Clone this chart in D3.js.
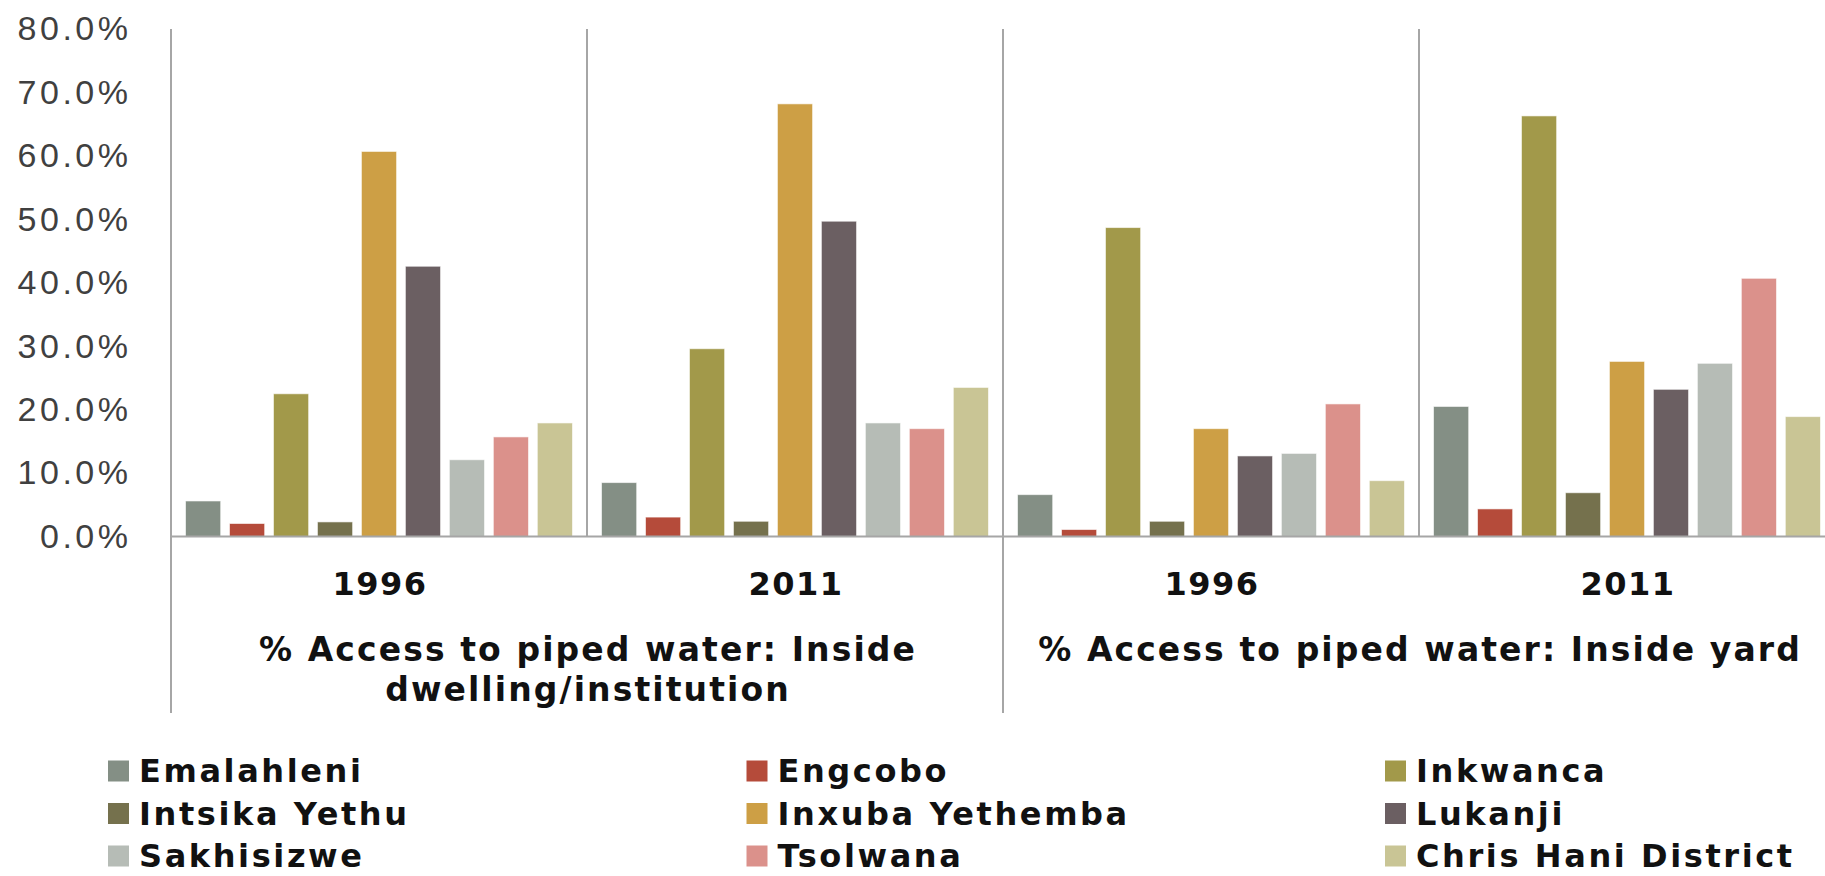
<!DOCTYPE html>
<html>
<head>
<meta charset="utf-8">
<script src="https://cdn.jsdelivr.net/npm/d3@7"></script>
<style>
  body { margin: 0; background: #fff; }
  svg { display: block; font-family: "DejaVu Sans", sans-serif; }
  .tick-lbl { font-size: 34px; fill: #404040; letter-spacing: 3.5px; }
  .year-lbl { font-size: 32px; font-weight: bold; fill: #111; letter-spacing: 1.5px; }
  .cat-lbl { font-size: 33px; font-weight: bold; fill: #111; letter-spacing: 2.1px; }
  .leg-lbl { font-size: 32px; font-weight: bold; fill: #111; letter-spacing: 2.6px; }
</style>
</head>
<body>
<div id="chart"></div>
<script>
// groups along the x axis (year within category)
var years = ['1996', '2011', '1996', '2011']
var categories = [
  ['% Access to piped water: Inside', 'dwelling/institution'],
  ['% Access to piped water: Inside yard']
]
var series = ['Emalahleni', 'Engcobo', 'Inkwanca', 'Intsika Yethu', 'Inxuba Yethemba',
              'Lukanji', 'Sakhisizwe', 'Tsolwana', 'Chris Hani District']
// % values per series: [dwelling 1996, dwelling 2011, yard 1996, yard 2011]
var emalahleni = [5.6, 8.5, 6.6, 20.5]
var engcobo    = [2.05, 3.06, 1.1, 4.35]
var inkwanca   = [22.5, 29.6, 48.7, 66.3]
var intsika    = [2.3, 2.4, 2.4, 6.9]
var inxuba     = [60.7, 68.2, 17.0, 27.6]
var lukanji    = [42.6, 49.7, 12.7, 23.2]
var sakhisizwe = [12.1, 17.9, 13.1, 27.3]
var tsolwana   = [15.7, 17.0, 20.9, 40.7]
var chrisHani  = [17.9, 23.5, 8.8, 18.9]
var values = [emalahleni, engcobo, inkwanca, intsika, inxuba, lukanji, sakhisizwe, tsolwana, chrisHani]
var yTicks = [0, 0.1, 0.2, 0.3, 0.4, 0.5, 0.6, 0.7, 0.8]

var colors = ['#848f85', '#b54b3a', '#a2994a', '#75714d', '#cd9f45',
              '#6b5f62', '#b6bcb6', '#db918b', '#c9c595']

var W = 1825, H = 876
var x0 = 171, groupW = 416
var svg = d3.select('#chart').append('svg')
    .attr('width', W).attr('height', H)

var y = d3.scaleLinear().domain([0, 0.8]).range([536.5, 29])
var xg = d3.scaleBand().domain(d3.range(years.length))
    .range([x0, x0 + groupW * years.length])
var xs = d3.scaleBand().domain(series)
    .range([0, xg.bandwidth()]).paddingInner(0.2).paddingOuter(0.33)

// y axis labels (letter-spacing trails the last glyph, so shift right by it)
var yAxis = d3.axisLeft(y).tickValues(yTicks).tickFormat(d3.format('.1%')).tickSize(0).tickPadding(0)
var ya = svg.append('g').attr('transform', 'translate(131.5,0)').call(yAxis)
ya.select('.domain').remove()
ya.selectAll('text').attr('class', 'tick-lbl').attr('font-size', null).attr('font-family', null).attr('fill', null)

// bars
var flat = []
series.forEach((s, i) => {
  values[i].forEach((v, g) => flat.push({s: s, i: i, g: g, v: v / 100}))
})
svg.selectAll('.bar')
  .data(flat)
  .enter()
  .append('rect')
  .attr('class', 'bar')
  .attr('x', d => xg(d.g) + xs(d.s))
  .attr('width', xs.bandwidth())
  .attr('y', d => y(d.v))
  .attr('height', d => y(0) - y(d.v))
  .attr('fill', d => colors[d.i])
  .attr('stroke', '#fff').attr('stroke-opacity', 0.6).attr('stroke-width', 1)

// axis lines
var lineCol = '#a6a6a6'
svg.append('line')
  .attr('x1', x0).attr('x2', W).attr('y1', y(0)).attr('y2', y(0))
  .attr('stroke', lineCol).attr('stroke-width', 2)
d3.range(years.length).forEach(g => {
  var long = g % 2 == 0
  svg.append('line')
    .attr('x1', xg(g)).attr('x2', xg(g))
    .attr('y1', y(0.8)).attr('y2', long ? 713 : y(0))
    .attr('stroke', lineCol).attr('stroke-width', 2)
})

// year labels
svg.selectAll('.year-lbl')
  .data(years)
  .enter()
  .append('text')
  .attr('class', 'year-lbl')
  .attr('x', (d, i) => xg(i) + xg.bandwidth() / 2 + 1)
  .attr('y', 595)
  .attr('text-anchor', 'middle')
  .text(d => d)

// category labels (span two groups each)
categories.forEach((lines, c) => {
  var cx = xg(c * 2) + xg.bandwidth() + 1
  lines.forEach((t, k) => {
    svg.append('text')
      .attr('class', 'cat-lbl')
      .attr('x', cx)
      .attr('y', 661 + k * 40)
      .attr('text-anchor', 'middle')
      .text(t)
  })
})

// legend, 3 columns
var leg = svg.selectAll('.leg')
  .data(series)
  .enter()
  .append('g')
  .attr('class', 'leg')
  .attr('transform', (d, i) => 'translate(' + (108 + (i % 3) * 638.5) + ',' + (771 + Math.floor(i / 3) * 42.5) + ')')
leg.append('rect')
  .attr('x', 0).attr('y', -10.5).attr('width', 21).attr('height', 21)
  .attr('fill', (d, i) => colors[i])
leg.append('text')
  .attr('class', 'leg-lbl')
  .attr('x', 31).attr('y', 11)
  .text(d => d)
</script>
</body>
</html>
